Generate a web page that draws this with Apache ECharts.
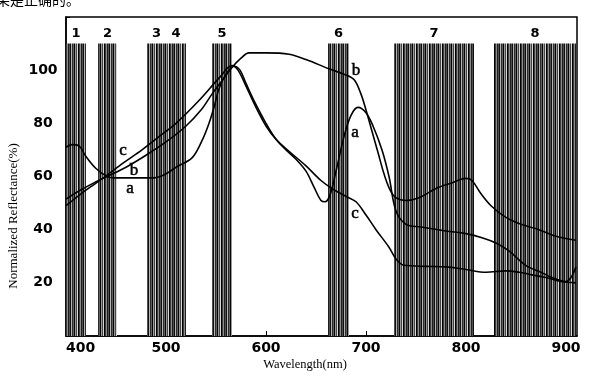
<!DOCTYPE html>
<html><head><meta charset="utf-8">
<script src="https://cdn.jsdelivr.net/npm/echarts@6/dist/echarts.min.js"></script>
<style>html,body{margin:0;padding:0;background:#fff;overflow:hidden}#c{width:597px;height:380px}</style>
</head><body><div id="c"></div>
<script>
// ---- data ----
const bandLabels = ['1','2','3','4','5','6','7','8'];
const bandStart  = [400, 432, 481, 500, 546, 662, 728, 828];
const bandEnd    = [420, 451, 500, 520, 566, 683, 808, 910];
const bandTop = 110;

const xTickValues = [400, 500, 600, 700, 800, 900];
const yTickValues = [20, 40, 60, 80, 100];

const curveA = [[400,71],[406,72],[413,71.5],[420,67.5],[430,63],[441,60],[448,59.5],[470,59.5],[488,59.5],[500,61],[510,63.5],[526,67],[536,73.5],[543,80],[548,86],[553,93],[560,98.5],[568,101.5],[574,100],[580,95],[590,87],[600,80],[610,74],[620,70],[630,66.5],[640,62],[648,56],[655,51],[659,50.5],[664,53],[670,62],[678,75],[685,83],[692,86],[700,84],[707,79],[716,70],[723,60],[730,47],[740,42],[755,41],[780,39.5],[800,38.5],[816,37],[830,35],[843,32],[860,26.5],[875,24],[886,22],[900,20.5],[905,22],[910,26]];
const curveB = [[400,51.5],[415,55],[430,58],[441,60],[460,63.5],[480,68],[500,73],[520,79],[535,85],[546,91],[556,96],[566,101],[575,104.5],[583,106.5],[600,106.5],[623,106],[640,104],[663,100.5],[678,98.5],[688,96.5],[695,91],[700,85],[706,77],[712,69],[718,61],[724,55],[730,52],[740,51],[753,52],[770,55.5],[785,57.5],[800,59.3],[806,58.5],[815,53.5],[825,49],[840,44.6],[855,42],[873,40],[890,37.5],[910,36]];
const curveC = [[400,49],[415,53.5],[430,57.5],[441,60.5],[457,65],[476,70],[493,75],[510,80],[533,88.6],[553,97],[566,101.7],[572,100],[580,94],[590,86],[600,79],[610,74],[623,69.5],[640,64],[655,58.5],[666,55.5],[680,52.5],[690,50.5],[700,45.5],[710,40],[723,33.4],[730,29],[738,26.6],[760,26.2],[780,26],[800,25],[820,24],[840,24.5],[853,24],[866,23],[880,22],[895,20.5],[910,20]];

const curveLabels = [
  {name:'c', value:[457,69.8]}, {name:'b', value:[468,62.3]}, {name:'a', value:[464,55.5]},
  {name:'b', value:[690,99.8]}, {name:'a', value:[689,76.5]}, {name:'c', value:[689,46.2]}
];

// ---- styling ----
function stripePattern(){
  const cols = ['#000000','#3c3c3c','#8c8c8c','#1e1e1e','#505050','#0e0e0e','#b4b4b4','#2c2c2c','#606060','#050505','#9a9a9a','#444444','#d8d8d8'];
  const cv = document.createElement('canvas');
  cv.width = cols.length; cv.height = 2;
  const ctx = cv.getContext('2d');
  cols.forEach((c,i)=>{ctx.fillStyle=c; ctx.fillRect(i,0,1,2);});
  return {image: cv, repeat: 'repeat'};
}
const pattern = stripePattern();
const numFont = 'DejaVu Sans';
const serif = 'Liberation Serif';

const bandAreas = bandLabels.map((l,i)=>[
  {name:l, xAxis:bandStart[i], yAxis:0},
  {xAxis:bandEnd[i], yAxis:bandTop}
]);

const lineStyle = {color:'#000', width:1.6};
function curve(d){
  return {type:'line', data:d, smooth:0.35, symbol:'none', lineStyle:lineStyle, z:5, silent:true};
}

const chart = echarts.init(document.getElementById('c'), null, {renderer:'canvas'});
chart.setOption({
  animation:false,
  backgroundColor:'#fff',
  grid:{left:66, right:20, top:17, bottom:44, show:true, borderColor:'#000', borderWidth:1.5},
  xAxis:{type:'value', min:400, max:911, interval:100,
    axisLine:{lineStyle:{color:'#000', width:1.5}},
    axisTick:{inside:true, length:5, lineStyle:{color:'#000'}},
    splitLine:{show:false},
    axisLabel:{color:'#000', fontFamily:numFont, fontWeight:'bold', fontSize:14, margin:5, alignMinLabel:'left'}
  },
  yAxis:{type:'value', min:0, max:120, interval:20,
    axisLine:{lineStyle:{color:'#000', width:1.5}},
    axisTick:{inside:true, length:4, lineStyle:{color:'#000'}},
    splitLine:{show:false},
    axisLabel:{color:'#000', fontFamily:numFont, fontWeight:'bold', fontSize:14, margin:23, align:'center',
      formatter:v=> yTickValues.indexOf(v)>=0 ? String(v) : ''}
  },
  graphic:[
    {type:'text', left:-4, top:-7, style:{text:'果是正确的。', font:'14px "Noto Sans CJK SC"', fill:'#000'}},
    {type:'text', x:305, y:365, style:{text:'Wavelength(nm)', font:'12.5px "Liberation Serif"', fill:'#000', align:'center', verticalAlign:'middle'}},
    {type:'text', x:14, y:216, rotation:Math.PI/2, style:{text:'Normalized Reflectance(%)', font:'13px "Liberation Serif"', fill:'#000', align:'center', verticalAlign:'middle'}}
  ],
  series:[
    {type:'line', data:[], z:1, silent:true,
      markArea:{silent:true, itemStyle:{color:pattern},
        label:{show:true, position:'top', color:'#000', fontFamily:numFont, fontWeight:'bold', fontSize:13, distance:3},
        data:bandAreas}},
    curve(curveA), curve(curveB), curve(curveC),
    {type:'scatter', data:curveLabels, symbolSize:0, z:6, silent:true,
      itemStyle:{opacity:1},
      label:{show:true, position:'inside', formatter:'{b}', color:'#000', fontFamily:serif, fontSize:17,
        textBorderColor:'#000', textBorderWidth:0.5}}
  ]
});
</script></body></html>
